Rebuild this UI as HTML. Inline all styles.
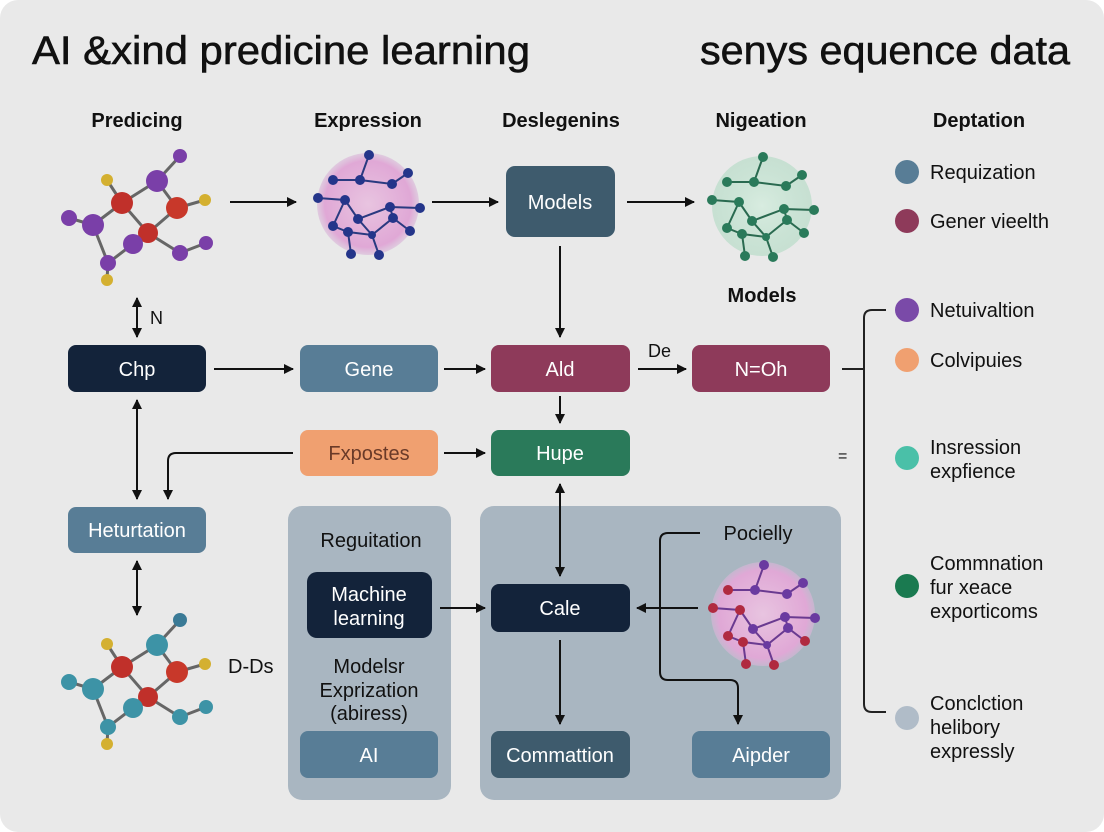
<!DOCTYPE html>
<html><head><meta charset="utf-8"><style>
html,body{margin:0;padding:0;background:#fff}
svg{display:block}
text{font-family:"Liberation Sans",sans-serif}
</style></head><body>
<svg width="1104" height="832" viewBox="0 0 1104 832" xmlns="http://www.w3.org/2000/svg">
<defs>
<marker id="a" viewBox="0 0 10 10" refX="9" refY="5" markerWidth="5" markerHeight="5" orient="auto-start-reverse"><path d="M0,0L10,5L0,10z" fill="#111"/></marker>
<radialGradient id="pk" cx="50%" cy="50%" r="50%"><stop offset="0" stop-color="#e8c4e0"/><stop offset="0.85" stop-color="#e0a8d6"/><stop offset="1" stop-color="#d9b6d8" stop-opacity="0.6"/></radialGradient>
<radialGradient id="gr" cx="50%" cy="50%" r="50%"><stop offset="0" stop-color="#d8ece0"/><stop offset="1" stop-color="#b8dcc8" stop-opacity="0.7"/></radialGradient>
</defs>
<rect x="0" y="0" width="1104" height="832" rx="18" fill="#e9e9e9"/>
<text x="32" y="64" font-size="40" fill="#111" textLength="498" lengthAdjust="spacingAndGlyphs" stroke="#111" stroke-width="0.6">AI &amp;xind predicine learning</text>
<text x="700" y="64" font-size="40" fill="#111" textLength="370" lengthAdjust="spacingAndGlyphs" stroke="#111" stroke-width="0.6">senys equence data</text>
<g font-size="20" fill="#111" text-anchor="middle" font-weight="bold">
<text x="137" y="127">Predicing</text><text x="368" y="127">Expression</text><text x="561" y="127">Deslegenins</text><text x="761" y="127">Nigeation</text><text x="979" y="127">Deptation</text>
<text x="762" y="302">Models</text>
</g>
<!-- molecules -->
<g id="mol" stroke="#666" stroke-width="3">
<line x1="180" y1="156" x2="157" y2="181"/><line x1="157" y1="181" x2="122" y2="203"/><line x1="157" y1="181" x2="177" y2="208"/><line x1="177" y1="208" x2="205" y2="200"/><line x1="107" y1="180" x2="122" y2="203"/><line x1="122" y1="203" x2="148" y2="233"/><line x1="177" y1="208" x2="148" y2="233"/><line x1="122" y1="203" x2="93" y2="225"/><line x1="93" y1="225" x2="69" y2="218"/><line x1="93" y1="225" x2="108" y2="263"/><line x1="108" y1="263" x2="133" y2="244"/><line x1="133" y1="244" x2="148" y2="233"/><line x1="108" y1="263" x2="107" y2="280"/><line x1="148" y1="233" x2="180" y2="253"/><line x1="180" y1="253" x2="206" y2="243"/>
</g>
<g stroke="none">
<circle cx="180" cy="156" r="7" fill="#7a3fa8"/><circle cx="107" cy="180" r="6" fill="#d4b030"/><circle cx="157" cy="181" r="11" fill="#7a3fa8"/><circle cx="122" cy="203" r="11" fill="#c0302a"/><circle cx="177" cy="208" r="11" fill="#c8382a"/><circle cx="205" cy="200" r="6" fill="#d4b030"/><circle cx="148" cy="233" r="10" fill="#c0302a"/><circle cx="93" cy="225" r="11" fill="#7a3fa8"/><circle cx="69" cy="218" r="8" fill="#7a3fa8"/><circle cx="133" cy="244" r="10" fill="#7a3fa8"/><circle cx="108" cy="263" r="8" fill="#7a3fa8"/><circle cx="107" cy="280" r="6" fill="#d4b030"/><circle cx="180" cy="253" r="8" fill="#7a3fa8"/><circle cx="206" cy="243" r="7" fill="#7a3fa8"/>
</g>
<g transform="translate(0,464)">
<use href="#mol"/>
<circle cx="180" cy="156" r="7" fill="#3a7a96"/><circle cx="107" cy="180" r="6" fill="#d4b030"/><circle cx="157" cy="181" r="11" fill="#3d93a6"/><circle cx="122" cy="203" r="11" fill="#c0302a"/><circle cx="177" cy="208" r="11" fill="#c8382a"/><circle cx="205" cy="200" r="6" fill="#d4b030"/><circle cx="148" cy="233" r="10" fill="#c0302a"/><circle cx="93" cy="225" r="11" fill="#3d93a6"/><circle cx="69" cy="218" r="8" fill="#3d93a6"/><circle cx="133" cy="244" r="10" fill="#3d93a6"/><circle cx="108" cy="263" r="8" fill="#3d93a6"/><circle cx="107" cy="280" r="6" fill="#d4b030"/><circle cx="180" cy="253" r="8" fill="#3d93a6"/><circle cx="206" cy="243" r="7" fill="#3d93a6"/>
</g>
<text x="228" y="673" font-size="20" fill="#111">D-Ds</text>
<!-- spheres -->
<g>
<circle cx="368" cy="204" r="51" fill="url(#pk)"/>
<g stroke="#2a3a80" stroke-width="2" fill="none"><path d="M369,155L360,180L392,184L408,173M333,180L360,180M318,198L345,200L358,219L390,207L420,208M345,200L333,226L348,232L372,235L393,218L410,231M358,219L372,235L379,255M348,232L351,254M390,207L393,218"/></g>
<g fill="#24358a"><circle cx="369" cy="155" r="5"/><circle cx="333" cy="180" r="5"/><circle cx="360" cy="180" r="5"/><circle cx="392" cy="184" r="5"/><circle cx="408" cy="173" r="5"/><circle cx="318" cy="198" r="5"/><circle cx="345" cy="200" r="5"/><circle cx="358" cy="219" r="5"/><circle cx="390" cy="207" r="5"/><circle cx="420" cy="208" r="5"/><circle cx="333" cy="226" r="5"/><circle cx="348" cy="232" r="5"/><circle cx="372" cy="235" r="4"/><circle cx="393" cy="218" r="5"/><circle cx="410" cy="231" r="5"/><circle cx="379" cy="255" r="5"/><circle cx="351" cy="254" r="5"/></g>
</g>
<g transform="translate(394,2)">
<circle cx="368" cy="204" r="50" fill="url(#gr)"/>
<g stroke="#2a6a50" stroke-width="2" fill="none"><path d="M369,155L360,180L392,184L408,173M333,180L360,180M318,198L345,200L358,219L390,207L420,208M345,200L333,226L348,232L372,235L393,218L410,231M358,219L372,235L379,255M348,232L351,254M390,207L393,218"/></g>
<g fill="#2a7a5a"><circle cx="369" cy="155" r="5"/><circle cx="333" cy="180" r="5"/><circle cx="360" cy="180" r="5"/><circle cx="392" cy="184" r="5"/><circle cx="408" cy="173" r="5"/><circle cx="318" cy="198" r="5"/><circle cx="345" cy="200" r="5"/><circle cx="358" cy="219" r="5"/><circle cx="390" cy="207" r="5"/><circle cx="420" cy="208" r="5"/><circle cx="333" cy="226" r="5"/><circle cx="348" cy="232" r="5"/><circle cx="372" cy="235" r="4"/><circle cx="393" cy="218" r="5"/><circle cx="410" cy="231" r="5"/><circle cx="379" cy="255" r="5"/><circle cx="351" cy="254" r="5"/></g>
</g>
<!-- panels -->
<rect x="288" y="506" width="163" height="294" rx="14" fill="#a9b6c1"/>
<rect x="480" y="506" width="361" height="294" rx="14" fill="#a9b6c1"/>
<g transform="translate(395,410)">
<circle cx="368" cy="204" r="52" fill="url(#pk)"/>
<g stroke="#6a3a90" stroke-width="2" fill="none"><path d="M369,155L360,180L392,184L408,173M333,180L360,180M318,198L345,200L358,219L390,207L420,208M345,200L333,226L348,232L372,235L393,218L410,231M358,219L372,235L379,255M348,232L351,254M390,207L393,218"/></g>
<g fill="#6a3aa0"><circle cx="369" cy="155" r="5"/><circle cx="360" cy="180" r="5"/><circle cx="392" cy="184" r="5"/><circle cx="408" cy="173" r="5"/><circle cx="358" cy="219" r="5"/><circle cx="390" cy="207" r="5"/><circle cx="420" cy="208" r="5"/><circle cx="393" cy="218" r="5"/><circle cx="372" cy="235" r="4"/></g>
<g fill="#b02a40"><circle cx="333" cy="180" r="5"/><circle cx="318" cy="198" r="5"/><circle cx="345" cy="200" r="5"/><circle cx="333" cy="226" r="5"/><circle cx="348" cy="232" r="5"/><circle cx="410" cy="231" r="5"/><circle cx="379" cy="255" r="5"/><circle cx="351" cy="254" r="5"/></g>
</g>
<!-- boxes -->
<g font-size="20" fill="#fff" text-anchor="middle">
<rect x="506" y="166" width="109" height="71" rx="9" fill="#3e5b6d"/><text x="560" y="209">Models</text>
<rect x="68" y="345" width="138" height="47" rx="8" fill="#13233a"/><text x="137" y="376">Chp</text>
<rect x="300" y="345" width="138" height="47" rx="8" fill="#587d96"/><text x="369" y="376">Gene</text>
<rect x="491" y="345" width="139" height="47" rx="8" fill="#8e3a5a"/><text x="560" y="376">Ald</text>
<rect x="692" y="345" width="138" height="47" rx="8" fill="#8e3a5a"/><text x="761" y="376">N=Oh</text>
<rect x="300" y="430" width="138" height="46" rx="8" fill="#f0a070"/><text x="369" y="460" fill="#6a3a28">Fxpostes</text>
<rect x="491" y="430" width="139" height="46" rx="8" fill="#2a7a5a"/><text x="560" y="460">Hupe</text>
<rect x="68" y="507" width="138" height="46" rx="8" fill="#587d96"/><text x="137" y="537">Heturtation</text>
<rect x="307" y="572" width="125" height="66" rx="10" fill="#13233a"/><text x="369" y="601">Machine</text><text x="369" y="625">learning</text>
<rect x="491" y="584" width="139" height="48" rx="8" fill="#13233a"/><text x="560" y="615">Cale</text>
<rect x="300" y="731" width="138" height="47" rx="8" fill="#587d96"/><text x="369" y="762">AI</text>
<rect x="491" y="731" width="139" height="47" rx="8" fill="#3e5b6d"/><text x="560" y="762">Commattion</text>
<rect x="692" y="731" width="138" height="47" rx="8" fill="#587d96"/><text x="761" y="762">Aipder</text>
</g>
<g font-size="20" fill="#111" text-anchor="middle">
<text x="371" y="547">Reguitation</text>
<text x="369" y="673">Modelsr</text><text x="369" y="697">Exprization</text><text x="369" y="720">(abiress)</text>
<text x="758" y="540">Pocielly</text>
</g>
<text x="150" y="324" font-size="18" fill="#111">N</text>
<text x="648" y="357" font-size="18" fill="#111">De</text>
<text x="838" y="461" font-size="16" fill="#111">=</text>
<!-- arrows -->
<g stroke="#111" stroke-width="2" fill="none" marker-end="url(#a)">
<line x1="230" y1="202" x2="296" y2="202"/>
<line x1="432" y1="202" x2="498" y2="202"/>
<line x1="627" y1="202" x2="694" y2="202"/>
<line x1="560" y1="246" x2="560" y2="337"/>
<line x1="214" y1="369" x2="293" y2="369"/>
<line x1="444" y1="369" x2="485" y2="369"/>
<line x1="638" y1="369" x2="686" y2="369"/>
<line x1="560" y1="396" x2="560" y2="423"/>
<line x1="444" y1="453" x2="485" y2="453"/>
<path d="M293,453H176Q168,453 168,461V499"/>
<line x1="137" y1="298" x2="137" y2="337" marker-start="url(#a)"/>
<line x1="137" y1="400" x2="137" y2="499" marker-start="url(#a)"/>
<line x1="137" y1="561" x2="137" y2="615" marker-start="url(#a)"/>
<line x1="560" y1="484" x2="560" y2="576" marker-start="url(#a)"/>
<line x1="440" y1="608" x2="485" y2="608"/>
<line x1="698" y1="608" x2="637" y2="608"/>
<line x1="560" y1="640" x2="560" y2="724"/>
<path d="M700,533H668Q660,533 660,541V672Q660,680 668,680H730Q738,680 738,688V724"/>
</g>
<!-- brace -->
<path d="M886,310H872Q864,310 864,318V704Q864,712 872,712H886" stroke="#222" stroke-width="2" fill="none"/>
<path d="M842,369H864" stroke="#222" stroke-width="2"/>
<!-- legend -->
<g font-size="20" fill="#111">
<circle cx="907" cy="172" r="12" fill="#587d96"/><text x="930" y="179">Requization</text>
<circle cx="907" cy="221" r="12" fill="#8e3a5a"/><text x="930" y="228">Gener vieelth</text>
<circle cx="907" cy="310" r="12" fill="#7a4aa8"/><text x="930" y="317">Netuivaltion</text>
<circle cx="907" cy="360" r="12" fill="#f0a070"/><text x="930" y="367">Colvipuies</text>
<circle cx="907" cy="458" r="12" fill="#4ac0a8"/><text x="930" y="454">Insression</text><text x="930" y="478">expfience</text>
<circle cx="907" cy="586" r="12" fill="#1a7a50"/><text x="930" y="570">Commnation</text><text x="930" y="594">fur xeace</text><text x="930" y="618">exporticoms</text>
<circle cx="907" cy="718" r="12" fill="#b0bcc8"/><text x="930" y="710">Conclction</text><text x="930" y="734">helibory</text><text x="930" y="758">expressly</text>
</g>
</svg>
</body></html>
